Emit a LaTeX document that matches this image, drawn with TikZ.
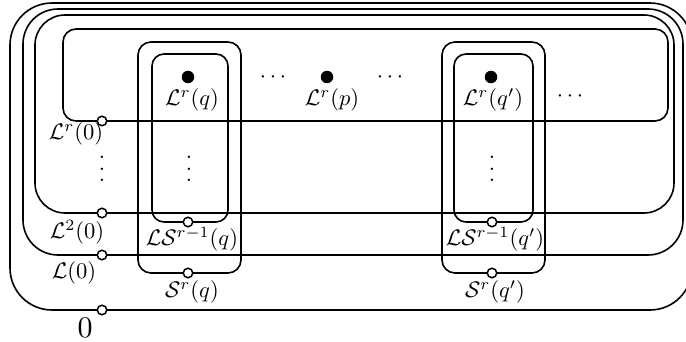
\documentclass[tikz,border=0pt]{standalone}
\newcommand{\myvdots}{\vbox{\baselineskip5pt\lineskiplimit0pt\hbox{.}\hbox{.}\hbox{.}}}
\begin{document}
\begin{tikzpicture}[x=1pt,y=-1pt,
  loop/.style={draw,line width=1.6pt},
  marker/.style={circle,draw,fill=white,line width=1.5pt,inner sep=0pt,minimum size=9.5pt},
  pt/.style={circle,fill=black,inner sep=0pt,minimum size=12.5pt},
  lab/.style={inner sep=0pt,scale=2.25}]
\useasboundingbox (0,0) rectangle (686,342);
% big loops
\draw[loop,rounded corners=42pt] (10,3) rectangle (692,310);
\draw[loop,rounded corners=35pt] (23,9) rectangle (683,255);
\draw[loop,rounded corners=30pt] (35,15) rectangle (674,213);
\draw[loop,rounded corners=13pt] (63,29) rectangle (668,121);
% columns
\draw[loop,rounded corners=13pt] (138,42) rectangle (241,273);
\draw[loop,rounded corners=12pt] (152,54) rectangle (228,222);
\draw[loop,rounded corners=13pt] (442,42) rectangle (545,273);
\draw[loop,rounded corners=12pt] (454,54) rectangle (533,222);
% markers
\node[marker] (m0) at (102,310) {};
\node[marker] (m1) at (102,255) {};
\node[marker] (m2) at (102,213) {};
\node[marker] (mr) at (102,121) {};
\node[marker] (sq) at (188,273) {};
\node[marker] (lsq) at (188,222) {};
\node[marker] (sqp) at (492,273) {};
\node[marker] (lsqp) at (492,222) {};
% points
\node[pt] (pq) at (188,77) {};
\node[pt] (pp) at (327,77) {};
\node[pt] (pqp) at (491,77) {};
% labels
\node[lab] (lpq) at (192,100) {$\mathcal{L}^r(q)$};
\node[lab] (lpp) at (332,100) {$\mathcal{L}^r(p)$};
\node[lab] (lpqp) at (493,100) {$\mathcal{L}^r(q')$};
\node[lab] (c1) at (273,78) {$\cdots$};
\node[lab] (c2) at (390,78) {$\cdots$};
\node[lab] (c3) at (570,97) {$\cdots$};
\node[lab] (lr0) at (76,134) {$\mathcal{L}^r(0)$};
\node[lab] (v1) at (102,169) {\myvdots};
\node[lab] (v2) at (189,169) {\myvdots};
\node[lab] (v3) at (492,169) {\myvdots};
\node[lab] (l20) at (77,232) {$\mathcal{L}^2(0)$};
\node[lab] (l10) at (74,273) {$\mathcal{L}(0)$};
\node[inner sep=0pt,scale=3] (l00) at (85,328) {$0$};
\node[lab] (llsq) at (192,239) {$\mathcal{L}\mathcal{S}^{r-1}(q)$};
\node[lab] (lsqn) at (192,292) {$\mathcal{S}^r(q)$};
\node[lab] (llsqp) at (495,239) {$\mathcal{L}\mathcal{S}^{r-1}(q')$};
\node[lab] (lsqpn) at (495,292) {$\mathcal{S}^r(q')$};
\end{tikzpicture}
\end{document}
